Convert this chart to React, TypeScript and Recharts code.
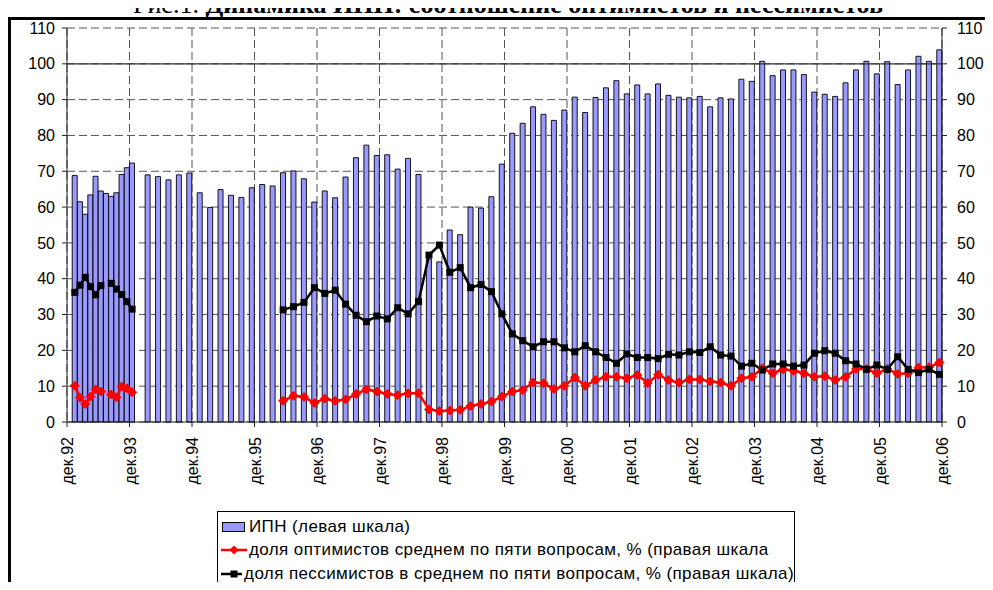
import React from "react";
import {
  ComposedChart,
  Bar,
  Line,
  XAxis,
  YAxis,
  CartesianGrid,
  ReferenceLine,
  Legend,
} from "recharts";

// ---- categories / tick labels ----
const xTickLabels = [
  "дек.92", "дек.93", "дек.94", "дек.95", "дек.96", "дек.97", "дек.98",
  "дек.99", "дек.00", "дек.01", "дек.02", "дек.03", "дек.04", "дек.05", "дек.06",
];
const yTicks = [0, 10, 20, 30, 40, 50, 60, 70, 80, 90, 100, 110];

const seriesNames = [
  "ИПН (левая шкала)",
  "доля оптимистов среднем по пяти вопросам, % (правая шкала",
  "доля пессимистов в среднем по пяти вопросам, % (правая шкала)",
];

// ---- monthly survey, Jan–Dec 1993 (months 1..12 after Dec 1992) ----
const ipn1993 = [68.8, 61.5, 58.0, 63.4, 68.6, 64.5, 63.8, 63.0, 64.0, 69.1, 71.0, 72.3];
const optimists1993 = [10.1, 6.8, 5.0, 7.1, 9.1, 8.5, null, 7.7, 6.9, 9.9, 9.4, 8.3];
const pessimists1993 = [36.2, 38.2, 40.4, 37.8, 35.5, 38.1, null, 38.7, 37.1, 35.6, 33.6, 31.5];

// ---- bimonthly survey, Mar 1994 .. Nov 2006 (month 15 .. 167 after Dec 1992) ----
const bimonthlyFirstMonth = 15;
const ipnBimonthly = [
  69.0, 68.5, 67.6, 69.0, 69.5, 64.0, 59.9, 64.9, 63.3, 62.7,
  65.4, 66.3, 65.9, 69.6, 70.1, 67.9, 61.4, 64.5, 62.6, 68.4,
  73.8, 77.3, 74.4, 74.6, 70.6, 73.6, 69.1, 45.5, 44.7, 53.6,
  52.3, 60.0, 59.7, 62.9, 72.0, 80.6, 83.4, 88.0, 85.9, 84.2,
  87.1, 90.7, 86.4, 90.6, 93.3, 95.3, 91.6, 94.1, 91.6, 94.4,
  91.2, 90.7, 90.5, 90.9, 88.0, 90.5, 90.2, 95.7, 95.1, 100.7,
  96.7, 98.3, 98.3, 97.0, 92.1, 91.5, 90.9, 94.7, 98.3, 100.7,
  97.2, 100.6, 94.2, 98.3, 102.1, 100.7, 103.9,
];

// shares of optimists / pessimists, bimonthly from May 1996 (month 41)
const sharesFirstMonth = 41;
const optimistsBimonthly = [
  5.9, 7.3, 7.0, 5.3, 6.5, 5.9, 6.3, 7.8, 9.1, 8.5,
  7.8, 7.5, 8.0, 8.0, 3.5, 3.1, 3.2, 3.4, 4.5, 5.0,
  5.7, 7.1, 8.5, 8.9, 11.0, 10.8, 9.2, 10.1, 12.4, 10.1,
  11.7, 12.6, 12.6, 12.2, 13.1, 10.9, 13.2, 11.7, 11.0, 11.9,
  11.9, 11.3, 11.0, 10.1, 12.2, 12.6, 15.0, 13.6, 14.7, 14.3,
  13.6, 12.6, 12.8, 11.7, 12.6, 14.8, 14.8, 13.6, 14.8, 13.4,
  13.6, 15.2, 15.3, 16.6,
];
const pessimistsBimonthly = [
  31.3, 32.2, 33.4, 37.5, 35.9, 36.8, 32.9, 29.8, 28.0, 29.6,
  28.8, 31.9, 30.2, 33.6, 46.6, 49.4, 41.8, 43.1, 37.5, 38.4,
  36.4, 30.2, 24.6, 22.7, 21.0, 22.4, 22.4, 20.7, 19.6, 21.3,
  19.6, 18.0, 16.4, 19.0, 18.0, 18.0, 17.7, 18.9, 18.7, 19.6,
  19.4, 21.0, 18.7, 18.4, 15.6, 16.4, 14.5, 16.2, 16.2, 15.6,
  15.9, 19.2, 19.9, 19.2, 17.1, 16.2, 14.7, 15.9, 14.7, 18.2,
  14.7, 13.8, 14.7, 13.3,
];

// ---- table for the chart (x = months since start of Dec 1992, mid-month) ----
type Row = { x: number; ipn: number | null; opt: number | null; pes: number | null };
const rows: Row[] = [];
ipn1993.forEach((v, i) => {
  rows.push({ x: i + 1 + 0.5, ipn: v, opt: optimists1993[i], pes: pessimists1993[i] });
});
ipnBimonthly.forEach((v, i) => {
  const m = bimonthlyFirstMonth + 2 * i;
  const j = (m - sharesFirstMonth) / 2;
  rows.push({
    x: m + 0.5,
    ipn: v,
    opt: j >= 0 ? optimistsBimonthly[j] : null,
    pes: j >= 0 ? pessimistsBimonthly[j] : null,
  });
});
const xTicks = xTickLabels.map((_, i) => i * 12);

const FONT = 'Arial, "Liberation Sans", sans-serif';
const BAR_FILL = "#9999FF";
const RED = "#FF0000";

const DiamondDot = (props: any) => {
  const { cx, cy, index } = props;
  if (cx == null || cy == null) return <g key={`od-${index}`} />;
  const r = 4.5;
  return (
    <polygon
      key={`od-${index}`}
      points={`${cx},${cy - r} ${cx + r},${cy} ${cx},${cy + r} ${cx - r},${cy}`}
      fill={RED}
      stroke={RED}
      strokeWidth={1}
    />
  );
};

const SquareDot = (props: any) => {
  const { cx, cy, index } = props;
  if (cx == null || cy == null) return <g key={`pd-${index}`} />;
  const s = 7;
  return <rect key={`pd-${index}`} x={cx - s / 2} y={cy - s / 2} width={s} height={s} fill="#000" />;
};

const XTick = (props: any) => {
  const { x, y, payload } = props;
  const label = xTickLabels[Math.round(payload.value / 12)] ?? "";
  return (
    <g transform={`translate(${x + 6},${y + 8}) rotate(-90)`}>
      <text x={0} y={0} textAnchor="end" fontFamily={FONT} fontSize={16} fill="#000">
        {label}
      </text>
    </g>
  );
};

const LegendBox = () => {
  const rowStyle: React.CSSProperties = {
    display: "flex",
    alignItems: "center",
    height: 23.5,
    whiteSpace: "nowrap",
  };
  return (
    <div
      style={{
        width: 578,
        height: 78,
        border: "1px solid #000",
        boxSizing: "border-box",
        background: "#fff",
        fontFamily: FONT,
        fontSize: 17,
        letterSpacing: 0.4,
        color: "#000",
        padding: "3px 0 0 3px",
        textAlign: "left",
      }}
    >
      <div style={rowStyle}>
        <svg width={26} height={14} style={{ marginRight: 2 }}>
          <rect x={1.5} y={2.5} width={22} height={9} fill={BAR_FILL} stroke="#000" strokeWidth={1} />
        </svg>
        <span>{seriesNames[0]}</span>
      </div>
      <div style={rowStyle}>
        <svg width={26} height={14} style={{ marginRight: 2 }}>
          <line x1={0} y1={7} x2={26} y2={7} stroke={RED} strokeWidth={2.5} />
          <polygon points="13,2.5 17.5,7 13,11.5 8.5,7" fill={RED} />
        </svg>
        <span>{seriesNames[1]}</span>
      </div>
      <div style={rowStyle}>
        <svg width={26} height={14} style={{ marginRight: 2 }}>
          <line x1={0} y1={7} x2={26} y2={7} stroke="#000" strokeWidth={2.5} />
          <rect x={9.5} y={3.5} width={7} height={7} fill="#000" />
        </svg>
        <span>{seriesNames[2]}</span>
      </div>
    </div>
  );
};

export default function App() {
  return (
    <div
      style={{
        position: "relative",
        width: 993,
        height: 590,
        margin: -8,
        overflow: "hidden",
        background: "#fff",
      }}
    >
      {/* frame */}
      <div
        style={{
          position: "absolute",
          left: 8,
          top: 17,
          width: 1100,
          height: 700,
          borderLeft: "3px solid #000",
          borderTop: "3px solid #000",
        }}
      />
      {/* title (cut by the top edge, as in the source) */}
      <div
        style={{
          position: "absolute",
          left: 0,
          width: 1016,
          top: -8,
          textAlign: "center",
          fontFamily: '"Times New Roman", "Liberation Serif", serif',
          fontSize: 26,
          lineHeight: "26px",
          color: "#000",
          whiteSpace: "nowrap",
        }}
      >
        Рис.1. <b>Динамика ИПН: соотношение оптимистов и пессимистов</b>
      </div>
      <div style={{ position: "absolute", left: 0, top: 0 }}>
        <ComposedChart
          width={993}
          height={590}
          data={rows}
          margin={{ top: 28, right: 0, bottom: 0, left: 0 }}
        >
          <CartesianGrid
            yAxisId="left"
            stroke="#555"
            strokeDasharray="8 4"
            strokeWidth={1}
          />
          <XAxis
            type="number"
            dataKey="x"
            domain={[0, 168]}
            ticks={xTicks}
            interval={0}
            height={168}
            tickSize={5}
            tick={<XTick />}
            axisLine={{ stroke: "#222", strokeWidth: 1 }}
            tickLine={{ stroke: "#222" }}
            allowDecimals
          />
          <YAxis
            yAxisId="left"
            orientation="left"
            domain={[0, 110]}
            ticks={yTicks}
            interval={0}
            width={67}
            tickSize={5}
            tickMargin={7}
            tick={{ fontFamily: FONT, fontSize: 16, fill: "#000" }}
            axisLine={{ stroke: "#222", strokeWidth: 1 }}
            tickLine={{ stroke: "#222" }}
          />
          <YAxis
            yAxisId="right"
            orientation="right"
            domain={[0, 110]}
            ticks={yTicks}
            interval={0}
            width={51}
            tickSize={5}
            tickMargin={10}
            tick={{ fontFamily: FONT, fontSize: 16, fill: "#000", textAnchor: "start" }}
            axisLine={{ stroke: "#222", strokeWidth: 1 }}
            tickLine={{ stroke: "#222" }}
          />
          <Bar
            yAxisId="left"
            dataKey="ipn"
            name={seriesNames[0]}
            barSize={5}
            fill={BAR_FILL}
            stroke="#000"
            strokeWidth={0.9}
            isAnimationActive={false}
          />
          <ReferenceLine yAxisId="left" y={100} stroke="#333" strokeWidth={1.3} />
          <Line
            yAxisId="right"
            dataKey="opt"
            name={seriesNames[1]}
            stroke={RED}
            strokeWidth={2.5}
            dot={DiamondDot}
            activeDot={false}
            connectNulls={false}
            isAnimationActive={false}
          />
          <Line
            yAxisId="right"
            dataKey="pes"
            name={seriesNames[2]}
            stroke="#000"
            strokeWidth={2.5}
            dot={SquareDot}
            activeDot={false}
            connectNulls={false}
            isAnimationActive={false}
          />
          <Legend
            layout="vertical"
            align="center"
            verticalAlign="middle"
            content={<LegendBox />}
            wrapperStyle={{ left: 217, top: 511, width: 578, height: 78 }}
          />
        </ComposedChart>
      </div>
    </div>
  );
}
